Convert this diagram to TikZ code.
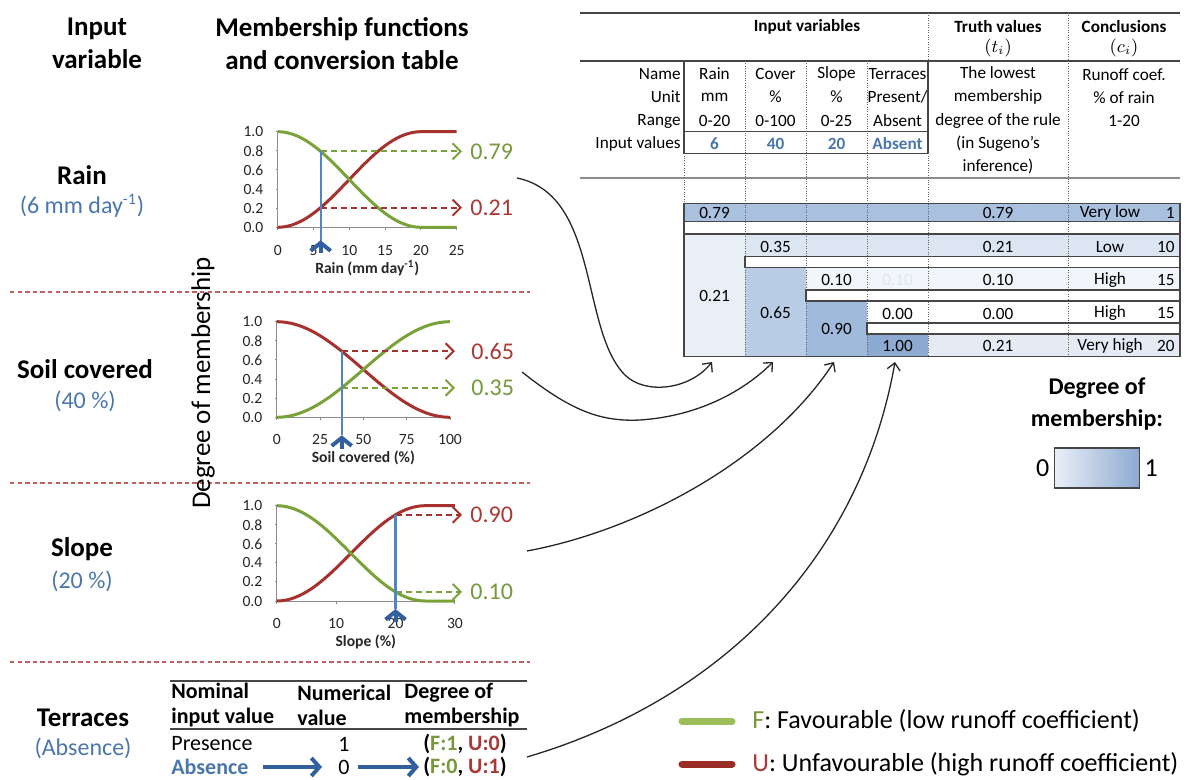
\documentclass[tikz,border=0pt]{standalone}
\usepackage{fontspec}
\setmainfont{Carlito}
\usetikzlibrary{arrows.meta,positioning}

\definecolor{fgreen}{RGB}{122,162,58}
\definecolor{fgreentxt}{RGB}{119,152,60}
\definecolor{ured}{RGB}{165,50,46}
\definecolor{uredtxt}{RGB}{168,58,54}
\definecolor{inblue}{RGB}{74,118,172}
\definecolor{lineblue}{RGB}{80,134,196}
\definecolor{arrblue}{RGB}{50,96,158}
\definecolor{sepred}{RGB}{196,96,96}
\definecolor{tabline}{RGB}{70,70,70}
\definecolor{dotgray}{RGB}{100,100,100}
\definecolor{cellA}{RGB}{170,192,223}
\definecolor{cellB}{RGB}{233,239,247}
\definecolor{cellC}{RGB}{220,230,242}
\definecolor{cellD}{RGB}{185,204,229}
\definecolor{cellE}{RGB}{242,245,250}
\definecolor{cellF}{RGB}{160,186,220}
\definecolor{cellG}{RGB}{141,170,210}
\definecolor{cellH}{RGB}{228,235,245}
\definecolor{legF}{RGB}{155,190,90}
\definecolor{legU}{RGB}{155,45,40}

\newcommand{\hdsize}{\fontsize{13.5}{16.5}\selectfont}
\newcommand{\valsize}{\fontsize{12}{14}\selectfont}
\newcommand{\tabsize}{\fontsize{8.6}{11.65}\selectfont}
\newcommand{\ticksize}{\fontsize{7.8}{9}\selectfont}
\newcommand{\trsize}{\fontsize{11}{12}\selectfont}
\newcommand{\legsize}{\fontsize{13}{15}\selectfont}

\begin{document}
\begin{tikzpicture}[x=0.5pt, y=-0.5pt,
  heading/.style={font=\hdsize\bfseries, align=center, inner sep=0pt},
  varname/.style={font=\hdsize\bfseries, inner sep=0pt},
  varval/.style={font=\valsize, text=inblue, inner sep=0pt},
  sepline/.style={sepred, line width=0.6pt, dash pattern=on 2.2pt off 1.6pt},
  axisline/.style={black!45, line width=0.5pt},
  ticklab/.style={font=\ticksize, text=black!85, inner sep=0pt},
  axtitle/.style={font=\ticksize\bfseries, text=black!85, inner sep=0pt},
  fcurve/.style={fgreen, line width=1.5pt},
  ucurve/.style={ured, line width=1.5pt},
  fdash/.style={fgreen, line width=1pt, dash pattern=on 3pt off 2pt, -{Straight Barb[length=4pt,width=8pt]}},
  udash/.style={ured, line width=1pt, dash pattern=on 3pt off 2pt, -{Straight Barb[length=4pt,width=8pt]}},
  fval/.style={font=\valsize, text=fgreentxt, anchor=west, inner sep=4pt},
  uval/.style={font=\valsize, text=uredtxt, anchor=west, inner sep=4pt},
  blueline/.style={lineblue, line width=1.1pt},
  bluearr/.style={arrblue, line width=2pt, -{Straight Barb[length=4pt,width=10pt]}},
  bigarr/.style={arrblue, line width=2pt, -{Straight Barb[length=4pt,width=9pt]}},
  tab/.style={font=\tabsize, inner sep=0pt},
  tabhead/.style={font=\tabsize\bfseries, inner sep=0pt},
  tabin/.style={font=\tabsize\bfseries, text=inblue, inner sep=0pt},
  tabrule/.style={tabline, line width=0.75pt},
  tabbox/.style={tabline, line width=0.6pt},
  dotline/.style={dotgray, line width=0.5pt, dash pattern=on 0.5pt off 0.7pt},
  trh/.style={font=\fontsize{11}{12.5}\selectfont\bfseries, align=left, inner sep=0pt, anchor=west},
  trc/.style={font=\trsize, inner sep=0pt},
  link/.style={black!85, line width=0.65pt, -{Straight Barb[length=3.5pt,width=6.5pt]}},
  legtext/.style={font=\legsize, anchor=west, inner sep=0pt}]

\useasboundingbox (0,0) rectangle (1188,780);

% headings on the left
\node[heading] (hVar) at (97,43.5) {Input\\variable};
\node[heading] (hMf) at (342,43.5) {Membership functions\\and conversion table};

\node[varname] (vRain) at (82,175) {Rain};
\node[varval] (vRainV) at (82,206) {(6 mm day\textsuperscript{-1})};
\node[varname] (vSoil) at (85,369) {Soil covered};
\node[varval] (vSoilV) at (85,401) {(40 \%)};
\node[varname] (vSlope) at (82,549) {Slope};
\node[varval] (vSlopeV) at (82,581) {(20 \%)};
\node[varname] (vTerr) at (83,718) {Terraces};
\node[varval] (vTerrV) at (83,748) {(Absence)};

\draw[sepline] (10,292) -- (530,292);
\draw[sepline] (10,483) -- (530,483);
\draw[sepline] (10,662) -- (530,662);

\node[font=\hdsize, rotate=90, inner sep=0pt] (dom) at (203,383) {Degree of membership};

% rain chart
\begin{scope}[shift={(277.7,227.3)}, x={(7.16,0)}, y={(0,-95.6)}]
  \draw[axisline] (0,0) -- (25,0);
  \draw[axisline] (0,0) -- (0,1);
  \foreach \t in {0,5,...,25} {
    \draw[axisline] (\t,0) -- ++(0,-0.03);
    \node[ticklab, yshift=-11.5pt] (rainx\t) at (\t,0) {\t};
  }
  \foreach \v [count=\k] in {0.0,0.2,0.4,0.6,0.8,1.0} {
    \draw[axisline] (0,\v) -- ++(-0.3,0);
    \node[ticklab, anchor=east, xshift=-7pt] (rainy\k) at (0,\v) {\v};
  }
  \node[axtitle, yshift=-20.5pt] (rainT) at (12.5,0) {Rain (mm day\textsuperscript{-1})};
  \draw[ucurve] plot[domain=0:20, samples=41, smooth] (\x,{0.5-0.5*cos(9*\x)}) -- (25,1);
  \draw[fcurve] plot[domain=0:20, samples=41, smooth] (\x,{0.5+0.5*cos(9*\x)}) -- (25,0);
  \coordinate (rainX) at (6,0);
  \coordinate (rainF) at (6,{0.5+0.5*cos(54)});
  \coordinate (rainU) at (6,{0.5-0.5*cos(54)});
  \node[fval] (rainFv) at (25.74,{0.5+0.5*cos(54)}) {0.79};
  \node[uval] (rainUv) at (25.74,{0.5-0.5*cos(54)}) {0.21};
  \draw[fdash] (rainF) -- (rainFv);
  \draw[udash] (rainU) -- (rainUv);
  \draw[blueline] ([yshift=-7pt]rainX) -- (rainF);
  \draw[bluearr] ([yshift=-13pt]rainX) -- ([yshift=-6.5pt]rainX);
\end{scope}

% soil cover chart
\begin{scope}[shift={(276.7,417.3)}, x={(1.733,0)}, y={(0,-95.6)}]
  \draw[axisline] (0,0) -- (100,0);
  \draw[axisline] (0,0) -- (0,1);
  \foreach \t in {0,25,...,100} {
    \draw[axisline] (\t,0) -- ++(0,-0.03);
    \node[ticklab, yshift=-11pt] (soilx\t) at (\t,0) {\t};
  }
  \foreach \v [count=\k] in {0.0,0.2,0.4,0.6,0.8,1.0} {
    \draw[axisline] (0,\v) -- ++(-1.2,0);
    \node[ticklab, anchor=east, xshift=-7pt] (soily\k) at (0,\v) {\v};
  }
  \node[axtitle, yshift=-20.5pt] (soilT) at (50,0) {Soil covered (\%)};
  \draw[ucurve] plot[domain=0:100, samples=51, smooth] (\x,{0.5+0.5*cos(1.8*\x)});
  \draw[fcurve] plot[domain=0:100, samples=51, smooth] (\x,{0.5-0.5*cos(1.8*\x)});
  \coordinate (soilX) at (37.5,0);
  \coordinate (soilU) at (37.5,{0.5+0.5*cos(67.5)});
  \coordinate (soilF) at (37.5,{0.5-0.5*cos(67.5)});
  \node[uval] (soilUv) at (107.5,{0.5+0.5*cos(67.5)}) {0.65};
  \node[fval] (soilFv) at (107.5,{0.5-0.5*cos(67.5)}) {0.35};
  \draw[udash, shorten >=4pt] (soilU) -- (soilUv);
  \draw[fdash, shorten >=4pt] (soilF) -- (soilFv);
  \draw[blueline] ([yshift=-9pt]soilX) -- (soilU);
  \draw[bluearr] ([yshift=-16pt]soilX) -- ([yshift=-9pt]soilX);
\end{scope}

% slope chart
\begin{scope}[shift={(276.7,601)}, x={(5.94,0)}, y={(0,-95.3)}]
  \draw[axisline] (0,0) -- (30,0);
  \draw[axisline] (0,0) -- (0,1);
  \foreach \t in {0,10,20,30} {
    \draw[axisline] (\t,0) -- ++(0,-0.03);
    \node[ticklab, yshift=-11pt] (slopex\t) at (\t,0) {\t};
  }
  \foreach \v [count=\k] in {0.0,0.2,0.4,0.6,0.8,1.0} {
    \draw[axisline] (0,\v) -- ++(-0.35,0);
    \node[ticklab, anchor=east, xshift=-7pt] (slopey\k) at (0,\v) {\v};
  }
  \node[axtitle, yshift=-20.5pt] (slopeT) at (15,0) {Slope (\%)};
  \draw[ucurve] plot[domain=0:25, samples=41, smooth] (\x,{0.5-0.5*cos(7.2*\x)}) -- (30,1);
  \draw[fcurve] plot[domain=0:25, samples=41, smooth] (\x,{0.5+0.5*cos(7.2*\x)}) -- (30,0);
  \coordinate (slopeX) at (20,0);
  \coordinate (slopeU) at (20,{0.5-0.5*cos(144)});
  \coordinate (slopeF) at (20,{0.5+0.5*cos(144)});
  \node[uval] (slopeUv) at (31.2,{0.5-0.5*cos(144)}) {0.90};
  \node[fval] (slopeFv) at (31.2,{0.5+0.5*cos(144)}) {0.10};
  \draw[udash] (slopeU) -- (slopeUv);
  \draw[fdash] (slopeF) -- (slopeFv);
  \draw[blueline] ([yshift=-4pt]slopeX) -- (slopeU);
  \draw[bluearr] ([yshift=-10.5pt]slopeX) -- ([yshift=-4pt]slopeX);
\end{scope}

% terraces conversion table
\draw[tabline, line width=1.1pt] (170,681) -- (527,681);
\draw[tabline, line width=0.7pt] (170,729) -- (527,729);
\node[trh] (trNom) at (171,705) {Nominal\\input value};
\node[trh] (trNum) at (297,705) {Numerical\\value};
\node[trh] (trDeg) at (404,705) {Degree of\\membership};
\node[trc, anchor=west] (trPres) at (171,744) {Presence};
\node[trc] (trOne) at (344,744) {1};
\node[trc, font=\trsize\bfseries] (trFU1) at (465,744) {(\textcolor{fgreentxt}{F:1}, \textcolor{uredtxt}{U:0})};
\node[trc, anchor=west, font=\trsize\bfseries, text=inblue] (trAbs) at (171,767) {Absence};
\node[trc] (trZero) at (344,767) {0};
\node[trc, font=\trsize\bfseries] (trFU0) at (465,767) {(\textcolor{fgreentxt}{F:0}, \textcolor{uredtxt}{U:1})};
\draw[bigarr, shorten <=7pt, shorten >=8pt] (trAbs) -- (trZero);
\draw[bigarr, shorten <=4pt, shorten >=2pt] (trZero) -- (trFU0);

% rule table, header part
\draw[tabrule] (580,13) -- (1180,13);
\draw[tabrule] (580,61) -- (1180,61);
\draw[black!45, line width=1.2pt] (580,178) -- (1180,178);
\node[tabhead] (hIn) at (807,27) {Input variables};
\node[tabhead] (hTv) at (998,27) {Truth values};
\node[tab] (hTi) at (998,48) {$(t_i)$};
\node[tabhead] (hCo) at (1124,27) {Conclusions};
\node[tab] (hCi) at (1124,48) {$(c_i)$};

\node[tab, anchor=east] (rName) at (681,74) {Name};
\node[tab, anchor=east] (rUnit) at (681,97) {Unit};
\node[tab, anchor=east] (rRange) at (681,121) {Range};
\node[tab, anchor=east] (rIn) at (681,144) {Input values};
\foreach \x/\a/\b/\c/\d [count=\i] in {714.5/Rain/mm/0-20/6, 775.5/Cover/\%/0-100/40, 836.5/Slope/\%/0-25/20, 897.5/Terraces/{Present/}/Absent/Absent} {
  \node[tab] (cName\i) at (\x,74) {\a};
  \node[tab] (cUnit\i) at (\x,97) {\b};
  \node[tab] (cRange\i) at (\x,121) {\c};
  \node[tabin] (cIn\i) at (\x,144) {\d};
}
\node[tab, align=center] (tvText) at (998,120.5) {The lowest\\membership\\degree of the rule\\(in Sugeno's\\inference)};
\node[tab, align=center] (coText) at (1124,97.5) {Runoff coef.\\\% of rain\\1-20};

\draw[tabrule] (684,61) -- (684,153.3) -- (928,153.3) -- (928,61);
\draw[tabrule] (684,131.7) -- (928,131.7);

% rule table, cells
\fill[cellA] (684,203.3) rectangle (1180,221.7);
\fill[cellB] (684,234) rectangle (745,356.7);
\fill[cellC] (745,234) rectangle (1180,256.7);
\fill[cellD] (745,267.7) rectangle (806,356.7);
\fill[cellE] (806,267.7) rectangle (1180,290);
\fill[cellF] (806,301) rectangle (867,356.7);
\fill[cellG] (867,334) rectangle (928,356.7);
\fill[cellH] (928,334) rectangle (1180,356.7);

\foreach \x in {745,806,867} \draw[dotline] (\x,61) -- (\x,356.7);
\draw[dotline] (928,13) -- (928,61) (928,153.3) -- (928,356.7);
\draw[dotline] (1068,13) -- (1068,356.7);
\draw[dotline] (684,153.3) -- (684,203.3);

\draw[tabbox] (684,203.3) rectangle (1180,356.7);
\draw[tabbox] (684,221.7) rectangle (1180,234);
\draw[tabline, line width=1.2pt] (684,234) -- (1180,234);
\draw[tabbox] (745,256.7) rectangle (1180,267.7);
\draw[tabbox] (806,290) rectangle (1180,301);
\draw[tabbox] (867,323) rectangle (1180,334);

\node[tab] (mR1) at (714.5,213) {0.79};
\node[tab] (mR2) at (714.5,296) {0.21};
\node[tab] (mC2) at (775.5,247) {0.35};
\node[tab] (mC3) at (775.5,312.5) {0.65};
\node[tab] (mS3) at (836.5,280) {0.10};
\node[tab, text=cellC] (mT3) at (897.5,280) {0.10};
\node[tab] (mS4) at (836.5,329) {0.90};
\node[tab] (mT4) at (897.5,313.5) {0.00};
\node[tab] (mT5) at (897.5,346) {1.00};
\foreach \y/\tv/\w/\n [count=\i] in {213/0.79/Very low/1, 247/0.21/Low/10, 280/0.10/High/15, 313.5/0.00/High/15, 346/0.21/Very high/20} {
  \node[tab] (tv\i) at (998,\y) {\tv};
  \node[tab] (cw\i) at (1110,\y) {\w};
  \node[tab, anchor=east] (cn\i) at (1175,\y) {\n};
}

% links from the inputs to the rule table
\coordinate (rainOut) at (517,178);
\coordinate (soilOut) at (522,372);
\coordinate (slopeOut) at (527,551);
\coordinate (terrOut) at (527,757);
\coordinate (inRain) at (712,362);
\coordinate (inCover) at (773,362);
\coordinate (inSlope) at (834,362);
\coordinate (inTerr) at (895,362);
\draw[link] (rainOut) .. controls (600,195) and (580,330) .. (625,375) .. controls (645,395) and (690,390) .. (inRain);
\draw[link] (soilOut) .. controls (570,410) and (600,422) .. (640,420) .. controls (700,416) and (745,390) .. (inCover);
\draw[link] (slopeOut) .. controls (640,530) and (770,460) .. (inSlope);
\draw[link] (terrOut) .. controls (720,700) and (860,560) .. (inTerr);

% degree of membership scale
\node[font=\fontsize{12}{16}\selectfont\bfseries, align=center, inner sep=0pt] (domT) at (1097,404) {Degree of\\membership:};
\node[draw=tabline, line width=0.8pt, minimum width=42.5pt, minimum height=20pt, inner sep=0pt, left color=cellB, right color=cellG] (domBox) at (1097,468) {};
\node[font=\legsize, inner sep=0pt, left=2pt of domBox] (dom0) {0};
\node[font=\legsize, inner sep=0pt, right=2pt of domBox] (dom1) {1};

% legend
\coordinate (legFa) at (682,721);
\coordinate (legFb) at (732,721);
\coordinate (legUa) at (682,764);
\coordinate (legUb) at (732,764);
\draw[legF, line width=3.5pt, line cap=round] (legFa) -- (legFb);
\draw[legU, line width=3.5pt, line cap=round] (legUa) -- (legUb);
\node[legtext] (legFt) at (752,721) {\textcolor{fgreentxt}{F}: Favourable (low runoff coefficient)};
\node[legtext] (legUt) at (752,764) {\textcolor{uredtxt}{U}: Unfavourable (high runoff coefficient)};

\end{tikzpicture}
\end{document}
